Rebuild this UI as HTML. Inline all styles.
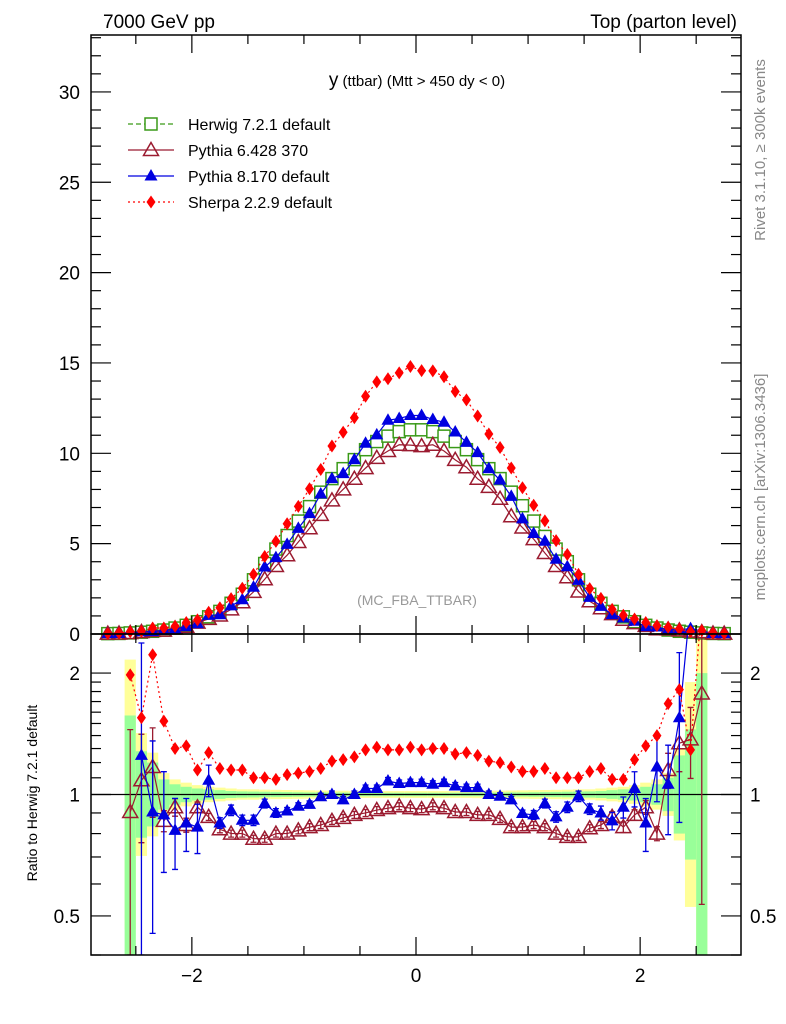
<!DOCTYPE html>
<html><head><meta charset="utf-8"><style>
html,body{margin:0;padding:0;background:#fff;width:786px;height:1024px;overflow:hidden;}
svg{display:block;font-family:"Liberation Sans",Arial,sans-serif;}
</style></head><body>
<svg id="chart" width="786" height="1024" viewBox="0 0 786 1024" overflow="hidden" xmlns="http://www.w3.org/2000/svg">
<rect x="0" y="0" width="786" height="1024" fill="#fff"/>
<g id="ratioBands"></g>
<g id="marks"></g>
<rect x="91" y="35" width="650" height="599" fill="none" stroke="#000" stroke-width="1.5"/>
<rect x="91" y="634" width="650" height="321" fill="none" stroke="#000" stroke-width="1.5"/>
<g id="axes"></g>
<text x="103" y="28" font-size="19">7000 GeV pp</text>
<text x="737" y="28" font-size="19" text-anchor="end">Top (parton level)</text>
<text x="417" y="86" font-size="15" text-anchor="middle"><tspan font-size="19">y</tspan> (ttbar) (Mtt &gt; 450 dy &lt; 0)</text>
<text x="417" y="605" font-size="14" fill="#999" text-anchor="middle">(MC_FBA_TTBAR)</text>
<text transform="translate(765,150) rotate(-90)" font-size="15" fill="#888" text-anchor="middle">Rivet 3.1.10, ≥ 300k events</text>
<text transform="translate(765,487) rotate(-90)" font-size="15" fill="#888" text-anchor="middle">mcplots.cern.ch [arXiv:1306.3436]</text>
<text transform="translate(37,793) rotate(-90)" font-size="14" text-anchor="middle">Ratio to Herwig 7.2.1 default</text>
<g id="legend"></g>
</svg>
<script>
const binCenters = [-2.75,-2.65,-2.55,-2.45,-2.35,-2.25,-2.15,-2.05,-1.95,-1.85,-1.75,-1.65,-1.55,-1.45,-1.35,-1.25,-1.15,-1.05,-0.95,-0.85,-0.75,-0.65,-0.55,-0.45,-0.35,-0.25,-0.15,-0.05,0.05,0.15,0.25,0.35,0.45,0.55,0.65,0.75,0.85,0.95,1.05,1.15,1.25,1.35,1.45,1.55,1.65,1.75,1.85,1.95,2.05,2.15,2.25,2.35,2.45,2.55,2.65,2.75];
const herwig = [0.02,0.03,0.06,0.1,0.15,0.22,0.33,0.48,0.68,0.95,1.25,1.7,2.2,3.0,3.9,4.7,5.45,6.25,7.05,7.85,8.6,9.15,9.65,10.2,10.65,10.95,11.2,11.3,11.3,11.2,10.95,10.65,10.2,9.65,9.15,8.6,7.85,7.1,6.25,5.4,4.7,4.0,3.0,2.2,1.7,1.25,0.95,0.68,0.48,0.33,0.22,0.15,0.1,0.06,0.03,0.02];
const ratioSherpa = [1.5,1.6,1.98,1.55,2.22,1.52,1.30,1.32,1.15,1.27,1.16,1.15,1.15,1.10,1.10,1.09,1.12,1.13,1.14,1.16,1.21,1.22,1.24,1.29,1.31,1.29,1.29,1.31,1.29,1.30,1.30,1.26,1.27,1.25,1.21,1.20,1.17,1.14,1.14,1.16,1.10,1.10,1.10,1.14,1.16,1.09,1.09,1.22,1.32,1.40,1.68,1.82,1.29,3.0,1.6,1.5];
const ratioPythia8 = [1.0,1.0,null,1.25,0.905,0.89,0.815,0.85,0.83,1.085,0.85,0.914,0.863,0.863,0.95,0.90,0.91,0.935,0.945,0.987,1.0,0.97,1.0,1.035,1.035,1.08,1.065,1.07,1.07,1.06,1.07,1.05,1.04,1.04,1.0,0.99,0.97,0.897,0.89,0.95,0.88,0.93,0.99,0.92,0.9,0.86,0.93,1.035,0.85,1.17,1.06,1.55,3.0,null,1.0,1.0];
const ratioPythia6 = [1.0,1.0,0.905,1.085,1.17,0.86,0.93,0.84,0.93,0.88,0.82,0.80,0.80,0.777,0.777,0.80,0.80,0.815,0.83,0.84,0.86,0.875,0.89,0.90,0.915,0.925,0.935,0.925,0.92,0.935,0.925,0.905,0.905,0.89,0.89,0.87,0.83,0.83,0.84,0.83,0.80,0.785,0.785,0.825,0.84,0.88,0.83,0.89,0.93,0.80,1.15,1.34,1.37,1.78,1.0,1.0];
const errPythia8 = [0,0,0,0.9,0.5,0.28,0.2,0.15,0.14,0.09,0.03,0.03,0.03,0.03,0.025,0.025,0.02,0.02,0.02,0.02,0.02,0.02,0.02,0.02,0.02,0.02,0.02,0.02,0.02,0.02,0.02,0.02,0.02,0.02,0.02,0.02,0.02,0.02,0.025,0.025,0.03,0.03,0.03,0.03,0.04,0.05,0.06,0.1,0.15,0.18,0.25,0.45,0,0,0,0];
const errPythia6 = [0,0,0.6,0.3,0.25,0.06,0.05,0.04,0.03,0.02,0.02,0.02,0.02,0.02,0.02,0.02,0.02,0.02,0.02,0.02,0.02,0.02,0.02,0.02,0.02,0.02,0.02,0.02,0.02,0.02,0.02,0.02,0.02,0.02,0.02,0.02,0.02,0.02,0.02,0.02,0.02,0.02,0.02,0.02,0.02,0.03,0.03,0.03,0.04,0.04,0.1,0.15,0.2,0.7,0,0];
const bandTotal = [0,0,1.16,0.42,0.27,0.13,0.09,0.07,0.055,0.045,0.04,0.035,0.03,0.03,0.028,0.027,0.026,0.025,0.024,0.023,0.022,0.022,0.021,0.02,0.02,0.02,0.02,0.02,0.02,0.02,0.02,0.02,0.02,0.021,0.022,0.022,0.023,0.024,0.025,0.026,0.027,0.028,0.03,0.03,0.035,0.04,0.045,0.055,0.07,0.09,0.13,0.3,0.9,1.5,0,0];
const bandStat = [0,0,0.57,0.28,0.2,0.09,0.06,0.045,0.035,0.03,0.025,0.02,0.018,0.017,0.016,0.015,0.014,0.013,0.012,0.012,0.011,0.011,0.01,0.01,0.01,0.01,0.01,0.01,0.01,0.01,0.01,0.01,0.01,0.01,0.011,0.011,0.012,0.012,0.013,0.014,0.015,0.016,0.017,0.018,0.02,0.025,0.03,0.035,0.045,0.06,0.1,0.25,0.45,1.0,0,0];
const bandStatLoEdge = [0,0,1.5,0.28,0.2,0.09,0.06,0.045,0.035,0.03,0.025,0.02,0.018,0.017,0.016,0.015,0.014,0.013,0.012,0.012,0.011,0.011,0.01,0.01,0.01,0.01,0.01,0.01,0.01,0.01,0.01,0.01,0.01,0.01,0.011,0.011,0.012,0.012,0.013,0.014,0.015,0.016,0.017,0.018,0.02,0.025,0.03,0.035,0.045,0.06,0.1,0.25,0.45,1.5,0,0];
const mainYTicks = [0,5,10,15,20,25,30];
const ratioYTicks = [0.5,1,2];
const xTickLabels = [-2,0,2];

const NS="http://www.w3.org/2000/svg";
const X0=91,X1=741,XMIN=-2.9,XMAX=2.9;
const sx=v=>X0+(v-XMIN)/(XMAX-XMIN)*(X1-X0);
const MY0=634,MY1=35,MYMAX=33.15;
const sy=v=>MY0-(v/MYMAX)*(MY0-MY1);
const RY0=955,RY1=634,RMIN=0.4,RMAX=2.5;
const ry=v=>RY0-(Math.log10(v)-Math.log10(RMIN))/(Math.log10(RMAX)-Math.log10(RMIN))*(RY0-RY1);
const clampR=v=>Math.max(RY1,Math.min(RY0,ry(v)));
function mk(tag,attrs,parent){const e=document.createElementNS(NS,tag);for(const k in attrs)e.setAttribute(k,attrs[k]);parent.appendChild(e);return e;}
const marks=document.getElementById('marks');
const axes=document.getElementById('axes');
const bands=document.getElementById('ratioBands');
const half=0.05;

for(let i=2;i<=53;i++){
  const xa=sx(binCenters[i]-half),xb=sx(binCenters[i]+half);
  const t=bandTotal[i],s=bandStat[i],sl=bandStatLoEdge[i];
  const r1=mk('rect',{x:xa,y:clampR(1+t),width:xb-xa,height:Math.max(0,clampR(1/(1+t))-clampR(1+t)),fill:'#ffff99'},bands);
  
  
  const r2=mk('rect',{x:xa,y:clampR(1+s),width:xb-xa,height:Math.max(0,clampR(1/(1+sl))-clampR(1+s)),fill:'#99ff99'},bands);
  
  
}
const one=mk('line',{x1:X0,x2:X1,y1:ry(1),y2:ry(1),stroke:'#000','stroke-width':1.3},bands);



function marker(type,cx,cy,color,g){
  let e;
  if(type==='square') e=mk('rect',{x:cx-6,y:cy-6,width:12,height:12,fill:'#fff',stroke:color,'stroke-width':1.5},g);
  else if(type==='otri') e=mk('polygon',{points:`${cx},${cy-7.5} ${cx-7.5},${cy+5.5} ${cx+7.5},${cy+5.5}`,fill:'none',stroke:color,'stroke-width':1.5},g);
  else if(type==='ftri') e=mk('polygon',{points:`${cx},${cy-7} ${cx-6.5},${cy+4.5} ${cx+6.5},${cy+4.5}`,fill:color},g);
  else e=mk('polygon',{points:`${cx},${cy-6.5} ${cx-4.5},${cy} ${cx},${cy+6.5} ${cx+4.5},${cy}`,fill:color},g);
  return e;
}
const series=[
 {name:'herwig',color:'#3a9a18',dash:'5,3',type:'square',ratio:null,err:null},
 {name:'pythia6',color:'#9b1b30',dash:'',type:'otri',ratio:ratioPythia6,err:errPythia6},
 {name:'pythia8',color:'#0000e0',dash:'',type:'ftri',ratio:ratioPythia8,err:errPythia8},
 {name:'sherpa',color:'#ff0000',dash:'2,3',type:'diamond',ratio:ratioSherpa,err:null}
];
series.forEach(s=>{
  const g=mk('g',{},marks);
  
  
  const pts=[];
  binCenters.forEach((x,i)=>{
    const r=s.ratio?s.ratio[i]:1; if(r==null)return;
    pts.push([sx(x),Math.min(MY0,sy(herwig[i]*r))]);
  });
  const pl=mk('polyline',{points:pts.map(p=>p.join(',')).join(' '),fill:'none',stroke:s.color,'stroke-width':1.2,'stroke-dasharray':s.dash},g);
  
  
  pts.forEach(p=>{const m=marker(s.type,p[0],p[1],s.color,g);
    
    });
  if(s.ratio){
    const cp=mk('clipPath',{id:'clip-'+s.name},g);
    mk('rect',{x:X0,y:RY1,width:X1-X0,height:RY0-RY1},cp);
    const rg=mk('g',{'clip-path':'url(#clip-'+s.name+')'},g);
    
    
    const rp=[];
    for(let i=2;i<=53;i++){const r=s.ratio[i]; if(r==null)continue; rp.push([sx(binCenters[i]),ry(r),r,i]);}
    if(s.err){rp.forEach(p=>{const e=s.err[p[3]]; if(!e)return;
      const up=clampR(p[2]*(1+e)), dn=clampR(Math.max(0.05,p[2]*(1-e)));
      const eb=mk('path',{d:`M${p[0]},${up}V${dn}M${p[0]-3},${up}h6M${p[0]-3},${dn}h6`,stroke:s.color,'stroke-width':1.3,fill:'none'},rg);
      
      });}
    const rl=mk('polyline',{points:rp.map(p=>p[0]+','+p[1]).join(' '),fill:'none',stroke:s.color,'stroke-width':1.2,'stroke-dasharray':s.dash},rg);
    
    
    rp.forEach(p=>{const m=marker(s.type,p[0],p[1],s.color,rg);
      
      });
  }
});

function line(x1,y1,x2,y2,name){const l=mk('line',{x1,y1,x2,y2,stroke:'#000','stroke-width':1.2},axes);
  
  }
function text(x,y,s,anchor,name,size){const t=mk('text',{x,y,'font-size':size||19,'text-anchor':anchor},axes);t.textContent=s;
  
  }
for(let v=0;v<=33;v++){const y=sy(v);const maj=v%5===0;const L=maj?20:10;
  line(X0,y,X0+L,y,'main-y-tick');line(X1,y,X1-L,y,'main-y-tick');}
mainYTicks.forEach(v=>text(80,sy(v)+7,String(v),'end','main-y-tick-label'));
const rMinor=[0.4,0.5,0.6,0.7,0.8,0.9,1,1.1,1.2,1.3,1.4,1.5,1.6,1.7,1.8,1.9,2];
rMinor.forEach(v=>{const maj=ratioYTicks.includes(v);const L=maj?20:10;const y=ry(v);
  line(X0,y,X0+L,y,'ratio-y-tick');line(X1,y,X1-L,y,'ratio-y-tick');});
ratioYTicks.forEach(v=>{text(80,ry(v)+7,String(v),'end','ratio-y-tick-label-left');text(750,ry(v)+7,String(v),'start','ratio-y-tick-label-right');});
for(let v=-2.5;v<=2.51;v+=0.5){const x=sx(v);const maj=Math.abs(v-Math.round(v/2)*2)<0.01;const L=maj?18:9;
  line(x,MY0,x,MY0-L,'x-tick');line(x,MY1,x,MY1+L,'x-tick');
  line(x,RY0,x,RY0-L,'x-tick');line(x,RY1,x,RY1+L,'x-tick');}
xTickLabels.forEach(v=>text(sx(v),982,v<0?'\u2212'+Math.abs(v):String(v),'middle','x-tick-label'));

const leg=document.getElementById('legend');
const labels=['Herwig 7.2.1 default','Pythia 6.428 370','Pythia 8.170 default','Sherpa 2.2.9 default'];
series.forEach((s,i)=>{
  const y=124+i*26;
  const g=mk('g',{},leg);
  
  
  mk('line',{x1:128,x2:174,y1:y,y2:y,stroke:s.color,'stroke-width':1.2,'stroke-dasharray':s.dash},g);
  marker(s.type,151,y,s.color,g);
  const t=mk('text',{x:188,y:y+6,'font-size':16},g);t.textContent=labels[i];
});
</script>
</body></html>
